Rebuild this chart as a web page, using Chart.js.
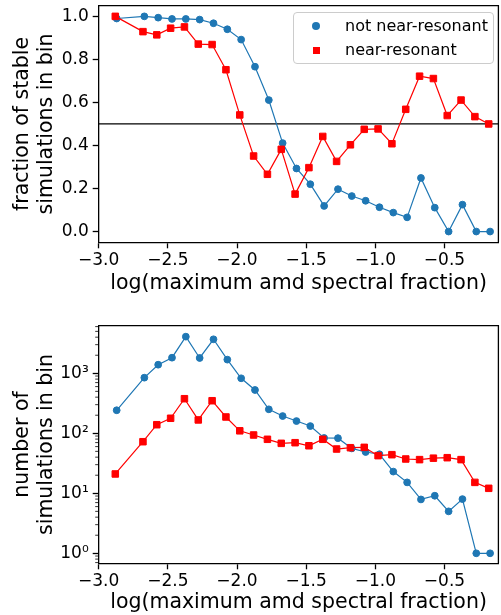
<!DOCTYPE html>
<html>
<head>
<meta charset="utf-8">
<script src="https://cdn.jsdelivr.net/npm/chart.js@4/dist/chart.umd.min.js"></script>
<style>
html, body { margin: 0; padding: 0; background: #fff; overflow: hidden; width: 501px; height: 615px; }
#wrap { position: relative; width: 501px; height: 615px; overflow: hidden; }
canvas { position: absolute; left: 0; }
#top { top: 0; }
#bot { top: 305px; }
#legend { position: absolute; left: 293px; top: 12px; width: 201px; height: 52px; box-sizing: border-box;
  border: 1px solid #ccc; border-radius: 4px; background: rgba(255,255,255,0.8);
  font: 16px "DejaVu Sans", sans-serif; color: #000; }
#legend .txt { position: absolute; left: 51px; height: 20px; line-height: 20px; white-space: nowrap; }
#legend .dot { position: absolute; left: 18px; top: 9px; width: 8px; height: 8px; border-radius: 50%; background: #1f77b4; }
#legend .sq { position: absolute; left: 18.5px; top: 33.5px; width: 7px; height: 7px; background: #ff0000; }
</style>
</head>
<body>
<div id="wrap">
  <canvas id="top" width="504" height="300"></canvas>
  <canvas id="bot" width="504" height="310"></canvas>
  <div id="legend">
    <div class="dot"></div><div class="txt" style="top:3px">not near-resonant</div>
    <div class="sq"></div><div class="txt" style="top:27px">near-resonant</div>
  </div>
</div>
<script>
// bin centres, log(maximum amd spectral fraction)
const blueX = [-2.87, -2.67, -2.57, -2.47, -2.37, -2.27, -2.17, -2.07, -1.97, -1.87, -1.77, -1.67, -1.57, -1.47,
  -1.37, -1.27, -1.17, -1.07, -0.97, -0.87, -0.77, -0.67, -0.57, -0.47, -0.37, -0.27, -0.17];
const redX = [-2.88, -2.68, -2.58, -2.48, -2.38, -2.28, -2.18, -2.08, -1.98, -1.88, -1.78, -1.68, -1.58, -1.48,
  -1.38, -1.28, -1.18, -1.08, -0.98, -0.88, -0.78, -0.68, -0.58, -0.48, -0.38, -0.28, -0.18];

// fraction of stable simulations
const blueFrac = [0.99, 1.0, 0.994, 0.988, 0.988, 0.985, 0.968, 0.94, 0.892, 0.766, 0.611, 0.411, 0.293, 0.22,
  0.119, 0.197, 0.165, 0.143, 0.113, 0.088, 0.066, 0.249, 0.111, 0.0, 0.125, 0.0, 0.0];
const redFrac = [1.0, 0.929, 0.914, 0.945, 0.951, 0.871, 0.869, 0.752, 0.542, 0.351, 0.266, 0.382, 0.174, 0.297,
  0.442, 0.326, 0.403, 0.475, 0.477, 0.408, 0.568, 0.722, 0.711, 0.539, 0.611, 0.534, 0.5];

// number of simulations
const blueCount = [242, 845, 1390, 1820, 4080, 1800, 3690, 1690, 826, 527, 251, 194, 160, 132,
  83.5, 83, 56, 48.8, 44.7, 23, 15.2, 7.9, 9.1, 5.0, 8.0, 1.0, 1.0];
const redCount = [21, 72.4, 139, 178, 377, 167, 349, 187, 110, 93.7, 79.4, 68, 69.7, 62,
  79.4, 54.7, 57.5, 58.3, 42.4, 44, 37.3, 36.4, 38.5, 39.2, 36.4, 15.2, 12.1];

const xTicks = [-3.0, -2.5, -2.0, -1.5, -1.0, -0.5];
const fracTicks = [0.0, 0.2, 0.4, 0.6, 0.8, 1.0];
const countDecades = [1, 10, 100, 1000];
const countLabels = ['10\u2070', '10\u00b9', '10\u00b2', '10\u00b3'];
const stableLine = 0.5;

const BLUE = '#1f77b4';
const RED = '#ff0000';
const FONT = 'DejaVu Sans';

const pts = (xs, ys) => xs.map((x, i) => ({ x: x, y: ys[i] }));
const minusFmt = v => (v < 0 ? '\u2212' : '') + Math.abs(v).toFixed(1);

const blueSet = (data) => ({
  data: data, borderColor: BLUE, backgroundColor: BLUE, borderWidth: 1.2,
  pointStyle: 'circle', pointRadius: 3.4, pointBorderWidth: 1, order: 1
});
const redSet = (data) => ({
  data: data, borderColor: RED, backgroundColor: RED, borderWidth: 1.2,
  pointStyle: 'rect', pointRadius: 4.6, pointBorderWidth: 1, order: 0
});

// keep the plot box where it is, whatever the tick labels need
const noPad = s => { s.paddingTop = 0; s.paddingBottom = 0; s.paddingLeft = 0; s.paddingRight = 0; };

const xAxis = (height, titlePad) => ({
  type: 'linear', min: -3.0, max: -0.11,
  afterBuildTicks: s => { s.ticks = xTicks.map(v => ({ value: v })); },
  afterFit: s => { s.height = height; noPad(s); },
  grid: { drawOnChartArea: false, drawTicks: true, tickLength: 6, tickWidth: 1.3, tickColor: '#000' },
  border: { display: true, color: '#000', width: 1.3 },
  ticks: { color: '#000', font: { family: FONT, size: 17 }, padding: 2, maxRotation: 0, autoSkip: false,
    callback: v => minusFmt(v) },
  title: { display: true, text: 'log(maximum amd spectral fraction)', color: '#000',
    font: { family: FONT, size: 20.5 }, padding: { top: 0, bottom: titlePad } }
});

// top & right spines, plus optional horizontal line / minor log ticks
const frame = {
  id: 'frame',
  beforeDatasetsDraw(chart, args, opts) {
    if (opts.hline === undefined) return;
    const { ctx, chartArea: a, scales } = chart;
    const y = scales.y.getPixelForValue(opts.hline);
    ctx.save();
    ctx.strokeStyle = '#000';
    ctx.lineWidth = 1.2;
    ctx.beginPath();
    ctx.moveTo(a.left, y);
    ctx.lineTo(a.right, y);
    ctx.stroke();
    ctx.restore();
  },
  afterDraw(chart, args, opts) {
    const { ctx, chartArea: a, scales } = chart;
    ctx.save();
    ctx.strokeStyle = '#000';
    ctx.lineWidth = 1.3;
    ctx.beginPath();
    ctx.moveTo(a.left - 0.65, a.top);
    ctx.lineTo(a.right, a.top);
    ctx.lineTo(a.right, a.bottom);
    ctx.stroke();
    if (opts.minor) {
      const s = scales.y;
      ctx.lineWidth = 0.8;
      [0.1, 1, 10, 100, 1000].forEach(d => {
        for (let m = 2; m <= 9; m++) {
          const v = d * m;
          if (v < s.min || v > s.max) continue;
          const y = s.getPixelForValue(v);
          ctx.beginPath();
          ctx.moveTo(a.left - 3.5, y);
          ctx.lineTo(a.left, y);
          ctx.stroke();
        }
      });
    }
    ctx.restore();
  }
};

Chart.defaults.font.family = FONT;

new Chart(document.getElementById('top'), {
  type: 'line',
  data: { datasets: [blueSet(pts(blueX, blueFrac)), redSet(pts(redX, redFrac))] },
  plugins: [frame],
  options: {
    responsive: false, animation: false, devicePixelRatio: 1,
    layout: { padding: { top: 4.3, right: 2, bottom: 0, left: 0 } },
    plugins: { legend: { display: false }, tooltip: { enabled: false }, frame: { hline: stableLine } },
    scales: {
      x: xAxis(57.7, 4.5),
      y: {
        type: 'linear', min: -0.05, max: 1.05,
        afterBuildTicks: s => { s.ticks = fracTicks.map(v => ({ value: v })); },
        afterFit: s => { s.width = 98.7; noPad(s); },
        grid: { drawOnChartArea: false, drawTicks: true, tickLength: 6, tickWidth: 1.3, tickColor: '#000' },
        border: { display: true, color: '#000', width: 1.3 },
        ticks: { color: '#000', font: { family: FONT, size: 17 }, padding: 4, callback: v => v.toFixed(1) },
        title: { display: true, text: ['fraction of stable', 'simulations in bin'], color: '#000',
          font: { family: FONT, size: 20.5 }, padding: { top: 10, bottom: 0 } }
      }
    }
  }
});

new Chart(document.getElementById('bot'), {
  type: 'line',
  data: { datasets: [blueSet(pts(blueX, blueCount)), redSet(pts(redX, redCount))] },
  plugins: [frame],
  options: {
    responsive: false, animation: false, devicePixelRatio: 1,
    layout: { padding: { top: 20.7, right: 2, bottom: 0, left: 0 } },
    plugins: { legend: { display: false }, tooltip: { enabled: false }, frame: { minor: true } },
    scales: {
      x: xAxis(51.7, 0.5),
      y: {
        type: 'logarithmic', min: 0.681, max: 6213,
        afterBuildTicks: s => { s.ticks = countDecades.map(v => ({ value: v })); },
        afterFit: s => { s.width = 98.7; noPad(s); },
        grid: { drawOnChartArea: false, drawTicks: true, tickLength: 6, tickWidth: 1.3, tickColor: '#000' },
        border: { display: true, color: '#000', width: 1.3 },
        ticks: { color: '#000', font: { family: FONT, size: 17 }, padding: 4, autoSkip: false,
          callback: v => countLabels[countDecades.indexOf(v)] },
        title: { display: true, text: ['number of', 'simulations in bin'], color: '#000',
          font: { family: FONT, size: 20.5 }, padding: { top: 10, bottom: 0 } }
      }
    }
  }
});
</script>
</body>
</html>
